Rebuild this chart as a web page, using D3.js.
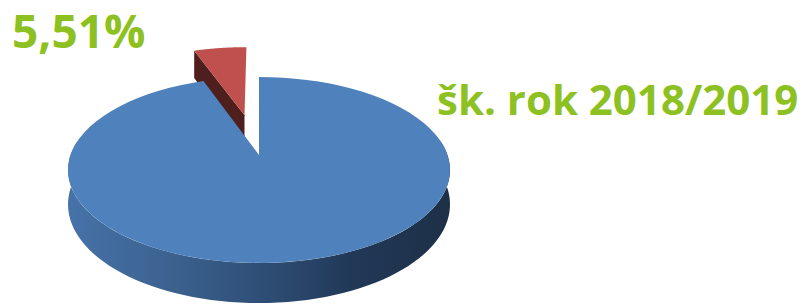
<!DOCTYPE html>
<html>
  <head>
    <meta charset="utf-8">
    <title>3D pie</title>
    <script src="https://cdn.jsdelivr.net/npm/d3@7"></script>
    <style>
      html, body { margin: 0; padding: 0; background: #fff; }
      .label { font-family: "Open Sans", sans-serif; font-weight: 700; fill: #8dc122; }
    </style>
  </head>
  <body>
    <svg id="chart" width="804" height="305"></svg>
  <script>
    // data
    const categories = ["ostatní", "podiel"];
    const values = [94.49, 5.51];
    const explode = [0, 0.48];        // radial offset, in radius units
    const sliceColors = ["#4f81bd", "#c0504d"];
    const title = "šk. rok 2018/2019";

    const W = 804, H = 305;
    const cx = 259, cy = 155;         // centre of the pie on screen
    const rx = 188.5, ry = 90.6;      // half axes before perspective
    const persp = 0.161;              // foreshortening of the far side
    const depth = 33.6;               // thickness of the pie

    const svg = d3.select("#chart");

    const xScale = d3.scaleLinear().domain([-1, 1]).range([cx - rx, cx + rx]);
    const yScale = d3.scaleLinear().domain([-1, 1]).range([cy + ry, cy - ry]);

    // ground point (u, v) -> screen, h = 0 on top, 1 at the bottom
    function project(u, v, h) {
      const w = 1 + persp * v;
      return [xScale(u / w), yScale(v / w) + depth * h / w];
    }

    const pie = d3.pie().sort(null).startAngle(0).endAngle(2 * Math.PI);
    const arcs = pie(values);
    arcs.forEach((a, i) => {
      const mid = (a.startAngle + a.endAngle) / 2;
      a.du = explode[i] * Math.sin(mid);
      a.dv = explode[i] * Math.cos(mid);
    });

    const line = d3.line();
    function pt(a, t, r, h) {
      return project(a.du + r * Math.sin(t), a.dv + r * Math.cos(t), h);
    }
    function topPath(a) {
      const pts = [pt(a, 0, 0, 0)];
      const n = 80;
      for (let i = 0; i <= n; i++) {
        pts.push(pt(a, a.startAngle + (a.endAngle - a.startAngle) * i / n, 1, 0));
      }
      return line(pts) + "Z";
    }
    function sidePath(a, t0, t1) {
      const n = 80, top = [], bot = [];
      for (let i = 0; i <= n; i++) {
        const t = t0 + (t1 - t0) * i / n;
        top.push(pt(a, t, 1, 0));
        bot.push(pt(a, t, 1, 1));
      }
      return line(top.concat(bot.reverse())) + "Z";
    }
    function cutPath(a, t) {
      return line([pt(a, t, 0, 0), pt(a, t, 1, 0), pt(a, t, 1, 1), pt(a, t, 0, 1)]) + "Z";
    }

    // gradient for the rim of the big slice
    const grad = svg.append("defs").append("linearGradient")
      .attr("id", "rim").attr("gradientUnits", "userSpaceOnUse")
      .attr("x1", cx - rx).attr("x2", cx + rx).attr("y1", 0).attr("y2", 0);
    grad.append("stop").attr("offset", "0%").attr("stop-color", "#4672a8");
    grad.append("stop").attr("offset", "25%").attr("stop-color", "#3c6391");
    grad.append("stop").attr("offset", "50%").attr("stop-color", "#2f4f77");
    grad.append("stop").attr("offset", "75%").attr("stop-color", "#213857");
    grad.append("stop").attr("offset", "100%").attr("stop-color", "#1e3048");

    const g = svg.append("g");

    // small exploded slice, behind the big one
    const red = arcs[1];
    g.append("path").attr("d", cutPath(red, red.startAngle)).attr("fill", "#4f1f1e");
    g.append("path").attr("d", topPath(red)).attr("fill", sliceColors[1]);

    // big slice: front rim then top
    const blue = arcs[0];
    g.append("path").attr("d", sidePath(blue, Math.PI * 0.45, Math.PI * 1.55)).attr("fill", "url(#rim)");
    g.append("path").attr("d", topPath(blue)).attr("fill", sliceColors[0]);

    // labels
    const fmt = d3.formatLocale({ decimal: ",", thousands: " ", grouping: [3], currency: ["", ""] }).format(".2f");
    svg.append("text").attr("class", "label")
      .attr("x", 12).attr("y", 48).attr("font-size", 46)
      .text(fmt(values[1]) + "%");
    svg.append("text").attr("class", "label")
      .attr("x", 437).attr("y", 115).attr("font-size", 42)
      .text(title);
  </script>
  </body>
</html>
